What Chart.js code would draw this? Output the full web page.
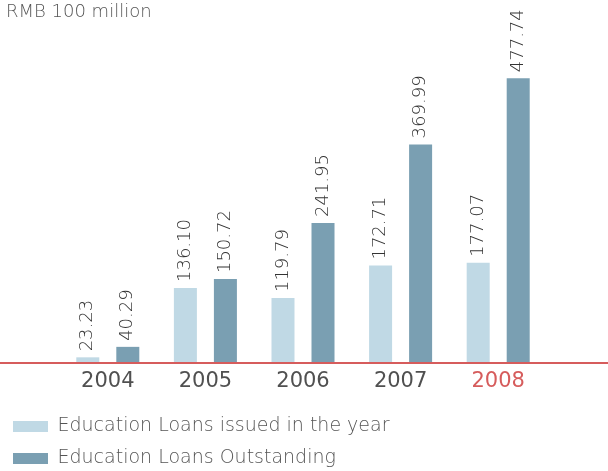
<!DOCTYPE html>
<html>
<head>
<meta charset="utf-8">
<script src="https://cdn.jsdelivr.net/npm/chart.js@4/dist/chart.umd.min.js"></script>
<style>
  html, body { margin: 0; padding: 0; background: #ffffff; }
  #wrap { width: 608px; height: 471px; }
</style>
</head>
<body>
<div id="wrap"><canvas id="c" width="608" height="471"></canvas></div>
<script>
// Education loan figures, RMB 100 million
const years = ['2004', '2005', '2006', '2007', '2008'];
const issuedInYear = [23.23, 136.10, 119.79, 172.71, 177.07];
const outstanding = [40.29, 150.72, 241.95, 369.99, 477.74];
const seriesNames = ['Education Loans issued in the year', 'Education Loans Outstanding'];
const unitLabel = 'RMB 100 million';

const FONT = "'DejaVu Sans', 'Liberation Sans', sans-serif";
const LIGHT = '#c0d9e5';
const DARK = '#7a9fb2';
const RED = '#d65c5c';

// Unit caption, baseline rule and rotated value labels
const decorations = {
  id: 'decorations',
  afterDraw(chart) {
    const ctx = chart.ctx;
    const area = chart.chartArea;

    ctx.save();
    ctx.strokeStyle = RED;
    ctx.lineWidth = 2;
    ctx.beginPath();
    ctx.moveTo(0, area.bottom);
    ctx.lineTo(chart.width, area.bottom);
    ctx.stroke();
    ctx.restore();

    ctx.save();
    ctx.font = '200 18px ' + FONT;
    ctx.fillStyle = '#555555';
    ctx.textAlign = 'left';
    ctx.textBaseline = 'alphabetic';
    ctx.fillText(unitLabel, 6, 17);
    ctx.restore();

    chart.data.datasets.forEach((ds, di) => {
      const meta = chart.getDatasetMeta(di);
      meta.data.forEach((bar, i) => {
        ctx.save();
        ctx.translate(bar.x, bar.y - 6);
        ctx.rotate(-Math.PI / 2);
        ctx.font = '200 18px ' + FONT;
        ctx.fillStyle = '#333333';
        ctx.textAlign = 'left';
        ctx.textBaseline = 'middle';
        ctx.fillText(ds.data[i].toFixed(2), 0, 0);
        ctx.restore();
      });
    });
  }
};

new Chart(document.getElementById('c'), {
  type: 'bar',
  data: {
    labels: years,
    datasets: [
      { label: seriesNames[0], data: issuedInYear, backgroundColor: LIGHT, borderWidth: 0 },
      { label: seriesNames[1], data: outstanding, backgroundColor: DARK, borderWidth: 0 }
    ]
  },
  options: {
    responsive: false,
    animation: false,
    devicePixelRatio: 1,
    layout: { padding: { top: 67, bottom: -7, left: 0, right: 0 } },
    datasets: {
      bar: { categoryPercentage: 0.82, barPercentage: 0.575 }
    },
    plugins: {
      tooltip: { enabled: false },
      title: { display: false },
      legend: {
        display: true,
        position: 'bottom',
        align: 'start',
        labels: {
          boxWidth: 35,
          boxHeight: 11,
          padding: 13,
          color: '#555555',
          font: { family: FONT, size: 19, weight: '200' }
        }
      }
    },
    scales: {
      x: {
        grid: { display: false, drawTicks: false },
        border: { display: false },
        ticks: {
          padding: 6,
          font: { family: FONT, size: 21, weight: 'normal' },
          color: (c) => c.index === years.length - 1 ? RED : '#505050'
        },
        afterFit: (s) => { s.height = 41; }
      },
      y: {
        min: 14,
        max: 496,
        display: true,
        grid: { display: false, drawTicks: false },
        border: { display: false },
        ticks: { display: false },
        afterFit: (s) => { s.width = 59; }
      },
      yRight: {
        position: 'right',
        display: true,
        grid: { display: false, drawTicks: false },
        border: { display: false },
        ticks: { display: false },
        afterFit: (s) => { s.width = 61; }
      }
    }
  },
  plugins: [decorations]
});
</script>
</body>
</html>
